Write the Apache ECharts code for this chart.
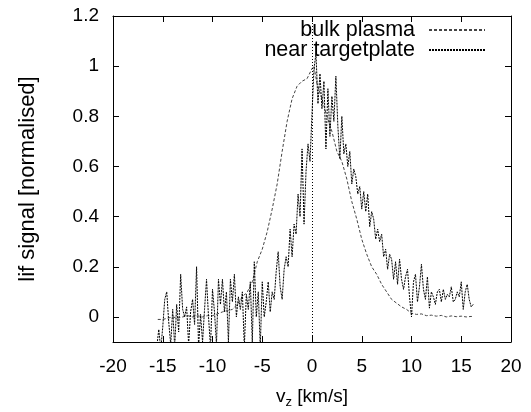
<!DOCTYPE html>
<html>
<head>
<meta charset="utf-8">
<script src="https://cdn.jsdelivr.net/npm/echarts@6/dist/echarts.min.js"></script>
<style>
  html, body { margin: 0; padding: 0; background: #fff; }
  #chart { width: 531px; height: 412px; }
</style>
</head>
<body>
<div id="chart"></div>
<script>
// tick labels
const xTicks = [-20, -15, -10, -5, 0, 5, 10, 15, 20]
const yTicks = [0, 0.2, 0.4, 0.6, 0.8, 1, 1.2]

// bulk plasma (smooth profile)
const vBulk = [-15.5, -15, -14.5, -14, -13.5, -13, -12.5, -12, -11.5, -11, -10.5, -10, -9.5, -9, -8.5, -8,
  -7.5, -7, -6.5, -6, -5.5, -5, -4.5, -4, -3.5, -3, -2.5, -2, -1.5, -1, -0.5, 0, 0.2, 0.5, 1, 1.5, 2,
  2.5, 3, 3.5, 4, 4.5, 5, 5.5, 6, 6.5, 7, 7.5, 8, 8.5, 9, 9.5, 10, 10.5, 11, 11.5, 12, 12.5, 13, 13.5,
  14, 14.5, 15, 15.5, 16, 16.2]
const lifBulk = [-0.01, -0.01, -0.005, 0, -0.005, 0, 0.005, 0, 0.005, 0, 0.005, 0.005, 0.012, 0.02, 0.025, 0.03,
  0.05, 0.08, 0.1, 0.14, 0.22, 0.27, 0.34, 0.43, 0.53, 0.66, 0.78, 0.87, 0.92, 0.94, 0.95, 0.99, 1.0, 0.93, 0.87, 0.8, 0.74,
  0.66, 0.62, 0.55, 0.46, 0.39, 0.31, 0.25, 0.2, 0.17, 0.13, 0.1, 0.07, 0.055, 0.04, 0.03, 0.015, 0.01, 0.012, 0.005, 0.007, 0.003, 0.006, 0.0,
  0.004, 0.001, 0.003, 0.0, 0.002, 0.0]

// near targetplate (noisy profile)
const vNear = [-15.6, -15.4, -15.2, -15.0, -14.8, -14.6, -14.4, -14.2, -14.0, -13.8, -13.6, -13.4, -13.2, -13.0,
  -12.8, -12.6, -12.4, -12.2, -12.0, -11.8, -11.6, -11.4, -11.2, -11.0, -10.8, -10.6, -10.4, -10.2, -10.0,
  -9.8, -9.6, -9.4, -9.2, -9.0, -8.8, -8.6, -8.4, -8.2, -8.0, -7.8, -7.6, -7.4, -7.2, -7.0,
  -6.8, -6.6, -6.4, -6.2, -6.0, -5.8, -5.6, -5.4, -5.2, -5.0, -4.8, -4.6, -4.4, -4.2, -4.0,
  -3.8, -3.6, -3.4, -3.2, -3.0, -2.8, -2.6, -2.4, -2.2, -2.0, -1.8, -1.6, -1.4, -1.2, -1.0,
  -0.8, -0.6, -0.4, -0.2, 0.0, 0.2, 0.4, 0.6, 0.8, 1.0, 1.2, 1.4, 1.6, 1.8, 2.0,
  2.2, 2.4, 2.6, 2.8, 3.0, 3.2, 3.4, 3.6, 3.8, 4.0, 4.2, 4.4, 4.6, 4.8, 5.0,
  5.2, 5.4, 5.6, 5.8, 6.0, 6.2, 6.4, 6.6, 6.8, 7.0, 7.2, 7.4, 7.6, 7.8, 8.0,
  8.2, 8.4, 8.6, 8.8, 9.0, 9.2, 9.4, 9.6, 9.8, 10.0, 10.2, 10.4, 10.6, 10.8, 11.0,
  11.2, 11.4, 11.6, 11.8, 12.0, 12.2, 12.4, 12.6, 12.8, 13.0, 13.2, 13.4, 13.6, 13.8, 14.0,
  14.2, 14.4, 14.6, 14.8, 15.0, 15.2, 15.4, 15.6, 15.8, 16.0, 16.2]
const lifNear = [-0.12, -0.05, -0.13, -0.04, 0.07, 0.1, -0.02, -0.11, 0.03, -0.12, 0.05, -0.06, 0.17, 0.03,
  0.0, 0.04, -0.11, 0.02, 0.07, -0.03, 0.2, -0.12, 0.01, -0.1, 0.03, 0.15, 0.0, -0.12, 0.11,
  0.02, -0.11, 0.15, 0.05, 0.15, 0.02, 0.1, -0.1, 0.15, 0.06, 0.17, 0.0, 0.08, 0.03, 0.1,
  -0.12, 0.09, 0.03, 0.14, -0.1, 0.22, 0.0, 0.1, -0.12, 0.14, 0.0, 0.06, 0.14, 0.02, 0.1,
  0.07, 0.18, 0.26, 0.12, 0.07, 0.19, 0.24, 0.2, 0.35, 0.24, 0.37, 0.33, 0.49, 0.4, 0.67,
  0.37, 0.58, 0.69, 0.62, 0.81, 0.99, 1.05, 0.85, 0.97, 0.83, 0.94, 0.67, 0.91, 0.72, 0.88,
  0.78, 0.96, 0.76, 0.63, 0.8, 0.65, 0.69, 0.6, 0.66, 0.53, 0.59, 0.56, 0.49, 0.52, 0.43,
  0.5, 0.42, 0.49, 0.36, 0.42, 0.39, 0.31, 0.35, 0.3, 0.33, 0.24, 0.27, 0.19, 0.25, 0.23,
  0.15, 0.22, 0.13, 0.23, 0.15, 0.11, 0.16, 0.19, 0.08, 0.0, 0.14, 0.17, 0.06, 0.12, 0.21,
  0.11, 0.07, 0.16, 0.035, 0.1, 0.08, 0.05, 0.1, 0.11, 0.06, 0.11, 0.07, 0.09, 0.08, 0.12,
  0.06, 0.07, 0.1, 0.08, 0.14, 0.03, 0.1, 0.13, 0.07, 0.04, 0.05]

const pairs = (xs, ys) => xs.map((x, i) => [x, ys[i]])

const chart = echarts.init(document.getElementById('chart'))

const font = 'Liberation Sans, Arial, sans-serif'
const fs = 19

const valueAxisX = {
  type: 'value',
  min: -20,
  max: 20,
  interval: 5,
  splitLine: { show: false },
  axisLine: { show: true, onZero: false, lineStyle: { color: '#000', width: 1 } },
  axisTick: { show: true, inside: true, length: 6, lineStyle: { color: '#000' } }
}

const valueAxisY = {
  type: 'value',
  min: -0.1,
  max: 1.2,
  splitLine: { show: false },
  axisLine: { show: true, onZero: false, lineStyle: { color: '#000', width: 1 } },
  axisTick: { show: true, inside: true, length: 6, customValues: yTicks, lineStyle: { color: '#000' } }
}

const legendBase = {
  right: 40,
  align: 'right',
  itemWidth: 56,
  itemHeight: 14,
  itemStyle: { opacity: 0 },
  textStyle: { fontSize: 21.5, color: '#000', fontFamily: font, padding: [0, 9, 0, 0] }
}

const option = {
  animation: false,
  backgroundColor: '#fff',
  textStyle: { fontFamily: font },
  grid: { left: 113, right: 20, top: 16, bottom: 70, outerBoundsMode: 'none', containLabel: false },
  legend: [
    Object.assign({ data: ['bulk plasma'], top: 14 }, legendBase),
    Object.assign({ data: ['near targetplate'], top: 34 }, legendBase)
  ],
  xAxis: [
    Object.assign({}, valueAxisX, {
      position: 'bottom',
      name: '{v|v}{s|z}{v| [km/s]}',
      nameLocation: 'middle',
      nameGap: 42,
      nameTextStyle: {
        rich: {
          v: { fontSize: fs, color: '#000', fontFamily: font },
          s: { fontSize: 13, color: '#000', fontFamily: font, verticalAlign: 'bottom', padding: [12, 0, 0, 0] }
        }
      },
      axisLabel: { fontSize: fs, color: '#000', margin: 15, fontFamily: font }
    }),
    Object.assign({}, valueAxisX, {
      position: 'top',
      axisLabel: { show: false }
    })
  ],
  yAxis: [
    Object.assign({}, valueAxisY, {
      position: 'left',
      name: 'lif signal [normalised]',
      nameLocation: 'middle',
      nameGap: 74,
      nameTextStyle: { fontSize: 22, color: '#000', fontFamily: font },
      axisLabel: { fontSize: fs, color: '#000', margin: 14, customValues: yTicks, fontFamily: font }
    }),
    Object.assign({}, valueAxisY, {
      position: 'right',
      axisLabel: { show: false }
    })
  ],
  series: [
    {
      name: 'bulk plasma',
      type: 'line',
      data: pairs(vBulk, lifBulk),
      showSymbol: false,
      symbol: 'none',
      clip: true,
      lineStyle: { color: '#444', width: 1, type: [3, 2] },
      itemStyle: { color: '#444' },
      markLine: {
        silent: true,
        symbol: 'none',
        label: { show: false },
        lineStyle: { color: '#000', width: 1, type: [1, 2] },
        data: [{ xAxis: 0 }]
      }
    },
    {
      name: 'near targetplate',
      type: 'line',
      data: pairs(vNear, lifNear),
      showSymbol: false,
      symbol: 'none',
      clip: true,
      lineStyle: { color: '#000', width: 1, type: [2, 1] },
      itemStyle: { color: '#000' }
    }
  ]
}

chart.setOption(option)
window.addEventListener('resize', () => chart.resize())
</script>
</body>
</html>
